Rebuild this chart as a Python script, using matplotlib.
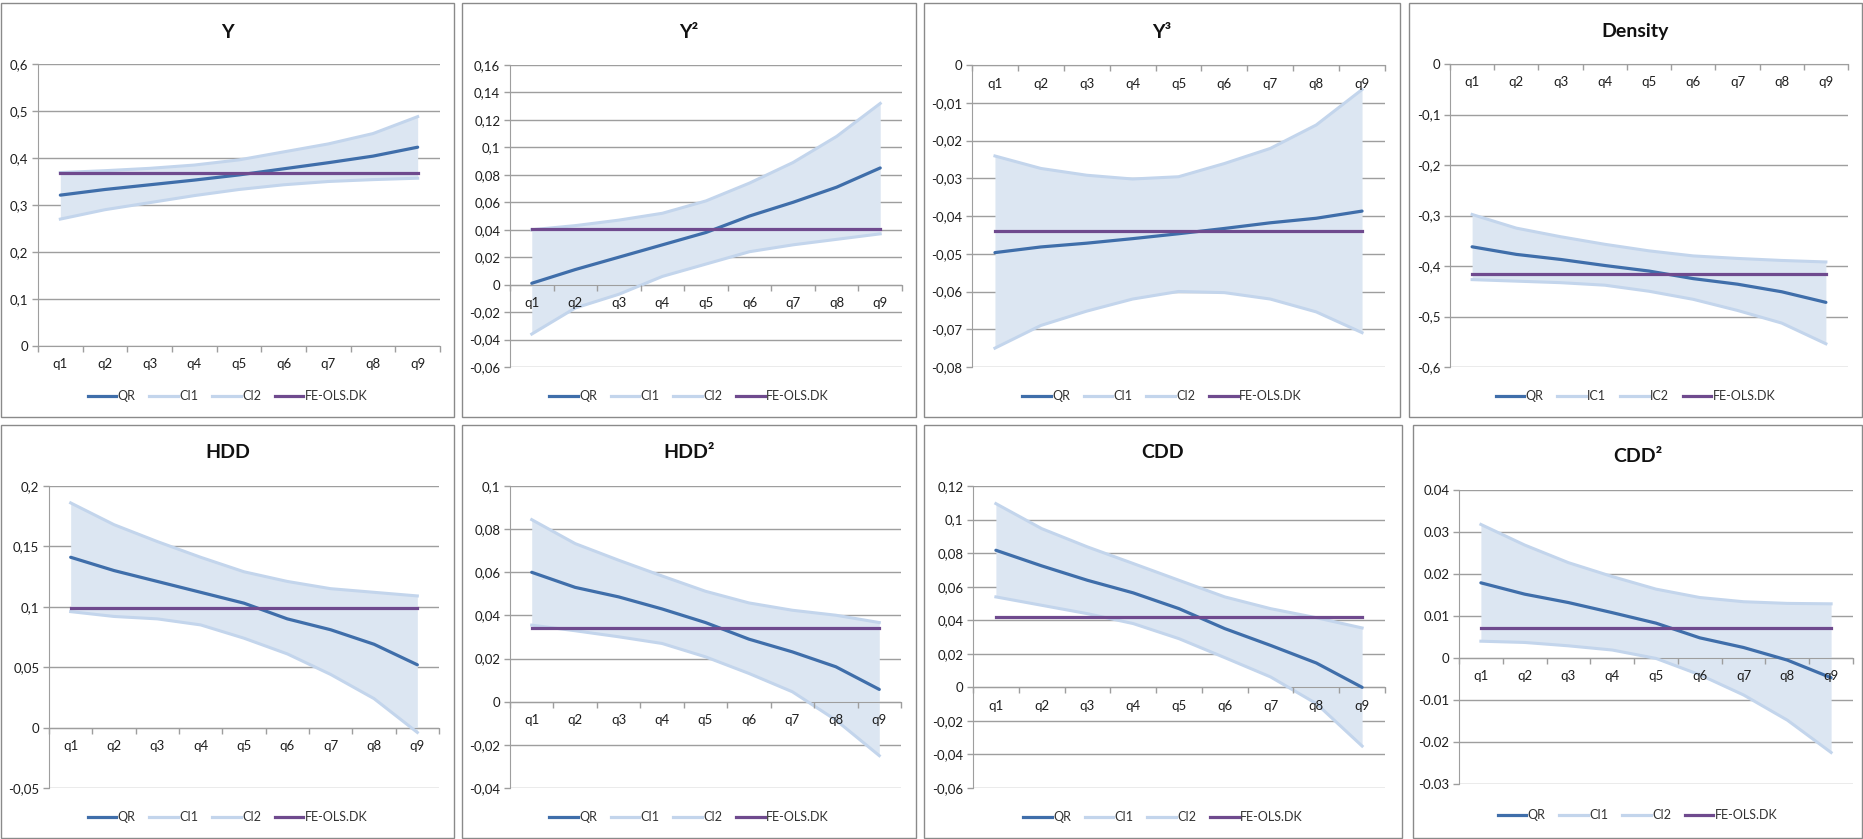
import numpy as np
import matplotlib
matplotlib.use("Agg")
import matplotlib.pyplot as plt
from matplotlib.lines import Line2D
from matplotlib.patches import Rectangle

plt.rcParams["font.family"] = ["Lato", "DejaVu Sans"]

QUANTILES = ["q1", "q2", "q3", "q4", "q5", "q6", "q7", "q8", "q9"]

# Income (Y)
Y_QR = [0.321, 0.333, 0.343, 0.353, 0.364, 0.377, 0.390, 0.404, 0.423]
Y_CI1 = [0.369, 0.373, 0.378, 0.385, 0.396, 0.413, 0.430, 0.452, 0.488]
Y_CI2 = [0.270, 0.290, 0.305, 0.320, 0.333, 0.343, 0.350, 0.354, 0.357]
Y_FE = 0.368

# Income squared
Y2_QR = [0.001, 0.011, 0.020, 0.029, 0.038, 0.050, 0.060, 0.071, 0.085]
Y2_CI1 = [0.040, 0.043, 0.047, 0.052, 0.061, 0.074, 0.089, 0.108, 0.132]
Y2_CI2 = [-0.036, -0.017, -0.007, 0.006, 0.015, 0.024, 0.029, 0.033, 0.037]
Y2_FE = 0.0405

# Income cubed
Y3_QR = [-0.0497, -0.0482, -0.0472, -0.0460, -0.0447, -0.0433, -0.0418, -0.0406, -0.0387]
Y3_CI1 = [-0.0241, -0.0274, -0.0292, -0.0302, -0.0296, -0.0261, -0.0221, -0.0159, -0.0065]
Y3_CI2 = [-0.0750, -0.0690, -0.0652, -0.0620, -0.0600, -0.0603, -0.0620, -0.0654, -0.0709]
Y3_FE = -0.0439

# Population density
DEN_QR = [-0.362, -0.377, -0.387, -0.399, -0.410, -0.425, -0.436, -0.451, -0.472]
DEN_IC1 = [-0.298, -0.325, -0.342, -0.357, -0.370, -0.380, -0.385, -0.389, -0.392]
DEN_IC2 = [-0.427, -0.430, -0.433, -0.438, -0.450, -0.466, -0.488, -0.513, -0.554]
DEN_FE = -0.415

# Heating degree days
HDD_QR = [0.141, 0.130, 0.121, 0.112, 0.103, 0.090, 0.081, 0.069, 0.052]
HDD_CI1 = [0.186, 0.168, 0.154, 0.141, 0.129, 0.121, 0.115, 0.112, 0.109]
HDD_CI2 = [0.096, 0.092, 0.090, 0.085, 0.074, 0.061, 0.044, 0.024, -0.004]
HDD_FE = 0.099

# Heating degree days squared
HDD2_QR = [0.060, 0.053, 0.0486, 0.043, 0.0367, 0.029, 0.0231, 0.0162, 0.0057]
HDD2_CI1 = [0.0844, 0.0733, 0.0656, 0.0583, 0.0512, 0.0458, 0.0424, 0.0401, 0.0367]
HDD2_CI2 = [0.0355, 0.0329, 0.0301, 0.027, 0.0208, 0.0131, 0.0046, -0.0085, -0.025]
HDD2_FE = 0.034

# Cooling degree days
CDD_QR = [0.0817, 0.0724, 0.0638, 0.0563, 0.0469, 0.035, 0.025, 0.0145, 0.0]
CDD_CI1 = [0.1095, 0.0946, 0.0837, 0.0738, 0.0638, 0.0539, 0.0469, 0.0415, 0.0354]
CDD_CI2 = [0.0539, 0.0489, 0.0439, 0.038, 0.029, 0.0177, 0.0062, -0.0097, -0.035]
CDD_FE = 0.042

# Cooling degree days squared
CDD2_QR = [0.0179, 0.0152, 0.0132, 0.0108, 0.0083, 0.0048, 0.0025, -0.0005, -0.0047]
CDD2_CI1 = [0.0318, 0.0269, 0.0227, 0.0194, 0.0164, 0.0144, 0.0134, 0.0130, 0.0129]
CDD2_CI2 = [0.0040, 0.0037, 0.0029, 0.0019, -0.0001, -0.0040, -0.0088, -0.0148, -0.0225]
CDD2_FE = 0.0071

TITLES = ["Y", "Y²", "Y³", "Density", "HDD", "HDD²", "CDD", "CDD²"]
SERIES = [
    (Y_QR, Y_CI1, Y_CI2, Y_FE),
    (Y2_QR, Y2_CI1, Y2_CI2, Y2_FE),
    (Y3_QR, Y3_CI1, Y3_CI2, Y3_FE),
    (DEN_QR, DEN_IC1, DEN_IC2, DEN_FE),
    (HDD_QR, HDD_CI1, HDD_CI2, HDD_FE),
    (HDD2_QR, HDD2_CI1, HDD2_CI2, HDD2_FE),
    (CDD_QR, CDD_CI1, CDD_CI2, CDD_FE),
    (CDD2_QR, CDD2_CI1, CDD2_CI2, CDD2_FE),
]
LEGEND_NAMES = [
    ("QR", "CI1", "CI2", "FE-OLS.DK"),
    ("QR", "CI1", "CI2", "FE-OLS.DK"),
    ("QR", "CI1", "CI2", "FE-OLS.DK"),
    ("QR", "IC1", "IC2", "FE-OLS.DK"),
    ("QR", "CI1", "CI2", "FE-OLS.DK"),
    ("QR", "CI1", "CI2", "FE-OLS.DK"),
    ("QR", "CI1", "CI2", "FE-OLS.DK"),
    ("QR", "CI1", "CI2", "FE-OLS.DK"),
]
# (low, high, step) of each value axis
Y_RANGES = [
    (0.0, 0.6, 0.1),
    (-0.06, 0.16, 0.02),
    (-0.08, 0.0, 0.01),
    (-0.6, 0.0, 0.1),
    (-0.05, 0.2, 0.05),
    (-0.04, 0.1, 0.02),
    (-0.06, 0.12, 0.02),
    (-0.03, 0.04, 0.01),
]
DECIMAL_SEP = [",", ",", ",", ",", ",", ",", ",", "."]

# ---- layout (pixels on a 1863 x 839 canvas) ----
W, H = 1863, 839
FRAMES = [  # x0, y0, x1, y1 of each chart border
    (1, 3, 454, 417), (462, 3, 916, 417), (924, 3, 1400, 417), (1409, 3, 1862, 417),
    (1, 425, 454, 838), (462, 425, 916, 838), (924, 425, 1402, 838), (1413, 425, 1862, 838),
]
PLOTS = [  # x0, y0, x1, y1 of each plot area
    (38, 64, 440, 346), (510, 65, 902, 367), (972, 65, 1385, 367), (1450, 64, 1848, 367),
    (49, 486, 439, 788), (510, 486, 901, 788), (973, 486, 1385, 788), (1459, 490, 1853, 784),
]
TITLE_Y = [32, 32, 32, 32, 453, 453, 453, 457]
LEGEND_Y = [396, 396, 396, 396, 817, 817, 817, 815]

C_QR = "#3F6EAA"
C_CI = "#C3D5EC"
C_FILL = "#DCE6F2"
C_FE = "#6F4A8E"
C_GRID = "#9E9E9E"
C_TEXT = "#1E1E1E"


def fmt(v, sep):
    s = f"{v:.4f}".rstrip("0").rstrip(".")
    if s in ("-0", ""):
        s = "0"
    return s.replace(".", sep)


fig = plt.figure(figsize=(W / 100, H / 100), dpi=100)
fig.patch.set_facecolor("white")

x = np.arange(1, len(QUANTILES) + 1)

for i in range(8):
    fx0, fy0, fx1, fy1 = FRAMES[i]
    fig.patches.append(Rectangle((fx0 / W, 1 - fy1 / H), (fx1 - fx0) / W, (fy1 - fy0) / H,
                                 transform=fig.transFigure, fill=False,
                                 edgecolor="#8A8A8A", linewidth=1.0, zorder=0))

    px0, py0, px1, py1 = PLOTS[i]
    ax = fig.add_axes([px0 / W, 1 - py1 / H, (px1 - px0) / W, (py1 - py0) / H])
    ax.set_facecolor("none")
    qr, ci1, ci2, fe = SERIES[i]
    lo, hi, step = Y_RANGES[i]
    n = int(round((hi - lo) / step)) + 1
    yt = np.round(lo + step * np.arange(n), 6)

    ax.set_xlim(0.5, len(QUANTILES) + 0.5)
    ax.set_ylim(lo, hi)
    ax.set_yticks(yt)
    ax.set_yticklabels([fmt(v, DECIMAL_SEP[i]) for v in yt])
    # horizontal gridlines sit beneath the confidence band
    for v in yt:
        ax.axhline(v, color=C_GRID, linewidth=1.0, zorder=0.8)

    ax.fill_between(x, ci1, ci2, color=C_FILL, linewidth=0, zorder=1.5)
    ax.plot(x, qr, color=C_QR, linewidth=2.3, zorder=3, solid_capstyle="round")
    ax.plot(x, ci1, color=C_CI, linewidth=2.2, zorder=3.1)
    ax.plot(x, ci2, color=C_CI, linewidth=2.2, zorder=3.1)
    ax.plot(x, [fe] * len(x), color=C_FE, linewidth=2.3, zorder=3.2)

    for side in ("top", "right"):
        ax.spines[side].set_visible(False)
    ax.spines["left"].set_color(C_GRID)
    ax.spines["bottom"].set_color(C_GRID)
    ax.spines["bottom"].set_position(("data", 0))

    ax.set_xticks(x)
    ax.set_xticklabels(QUANTILES)
    ax.set_xticks(np.arange(0.5, len(QUANTILES) + 1, 1.0), minor=True)
    ax.tick_params(axis="x", which="major", length=0, pad=9, labelsize=9.5, labelcolor=C_TEXT)
    ax.tick_params(axis="x", which="minor", length=4, width=1.0, color=C_GRID, direction="out")
    ax.tick_params(axis="y", length=4, width=1.0, color=C_GRID, labelsize=9.5,
                   labelcolor=C_TEXT, pad=3)
    # category labels stay readable on top of the band and its lines
    ax.xaxis.set_zorder(4)

    cx = (fx0 + fx1) / 2 / W
    fig.text(cx, 1 - TITLE_Y[i] / H, TITLES[i], ha="center", va="center",
             fontsize=14, fontweight="bold", color="#111111")

    names = LEGEND_NAMES[i]
    handles = [
        Line2D([], [], color=C_QR, linewidth=2.3),
        Line2D([], [], color=C_CI, linewidth=2.3),
        Line2D([], [], color=C_CI, linewidth=2.3),
        Line2D([], [], color=C_FE, linewidth=2.3),
    ]
    fig.legend(handles, names, loc="center", bbox_to_anchor=(cx, 1 - LEGEND_Y[i] / H),
               ncol=4, frameon=False, fontsize=9, handlelength=2.3,
               handletextpad=0.1, columnspacing=1.1, labelcolor="#333333")

fig.savefig("out.png", dpi=100, facecolor="white")
